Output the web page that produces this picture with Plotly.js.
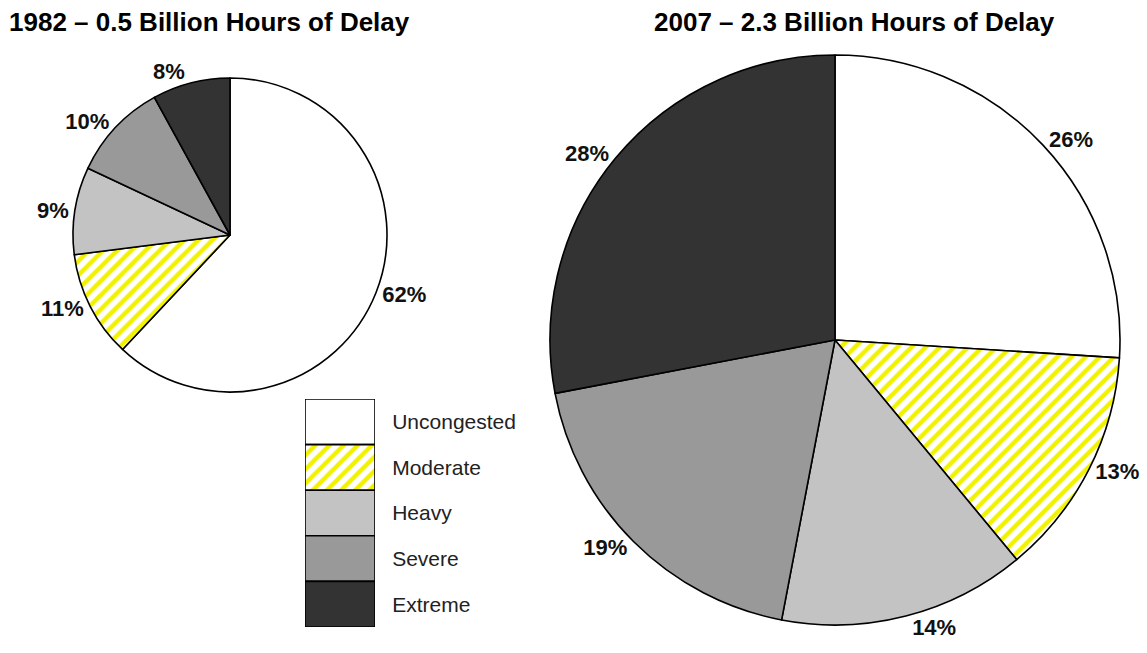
<!DOCTYPE html>
<html>
<head>
<meta charset="utf-8">
<script src="https://cdn.plot.ly/plotly-3.0.1.min.js"></script>
<style>html,body{margin:0;padding:0;background:#fff;}#chart{width:1147px;height:653px;}</style>
</head>
<body>
<div id="chart"></div>
<script>
// ---- data ----
const categories = ["Uncongested", "Moderate", "Heavy", "Severe", "Extreme"];
const share1982 = [62, 11, 9, 10, 8];
const share2007 = [26, 13, 14, 19, 28];
const title1982 = "1982 \u2013 0.5 Billion Hours of Delay";
const title2007 = "2007 \u2013 2.3 Billion Hours of Delay";
const legendUnits = [1, 1, 1, 1, 1];

// ---- styles ----
const fills = ["#ffffff", "#ffffff", "#c3c3c3", "#999999", "#333333"];
const patterns = ["", "/", "", "", ""];
const W = 1147, H = 653;
const px = v => v / W;
const py = v => 1 - v / H;
const font = "Liberation Sans, Arial, sans-serif";
const stripe = {fgcolor: "#f2f200", bgcolor: "#ffffff", size: 10, solidity: 0.45};

function pieTrace(values, x0, x1, yTop, yBot) {
  return {
    type: "pie",
    labels: categories,
    values: values,
    sort: false,
    direction: "clockwise",
    rotation: 0,
    textinfo: "percent",
    textposition: "outside",
    textfont: {family: font, size: 22, color: "#111", weight: "bold"},
    marker: {colors: fills.slice(), pattern: Object.assign({shape: patterns.slice()}, stripe),
             line: {color: "#000", width: 1.6}},
    domain: {x: [px(x0), px(x1)], y: [py(yBot), py(yTop)]},
    hoverinfo: "label+percent",
    showlegend: false
  };
}

// legend key: one bar per category on a small categorical axis
const legendBars = categories.map((cat, k) => ({
  type: "bar",
  orientation: "h",
  y: [cat],
  x: [legendUnits[k]],
  xaxis: "x", yaxis: "y",
  width: 1,
  marker: {
    color: fills[k],
    pattern: Object.assign({shape: patterns[k]}, stripe),
    line: {color: "#000", width: 1.6}
  },
  cliponaxis: false,
  hoverinfo: "y",
  showlegend: false
}));

const data = [
  pieTrace(share1982, 73, 387, 78, 392),
  pieTrace(share2007, 550, 1120, 55, 625)
].concat(legendBars);

const layout = {
  width: W, height: H,
  margin: {l: 0, r: 0, t: 0, b: 0},
  paper_bgcolor: "#fff", plot_bgcolor: "rgba(0,0,0,0)",
  showlegend: false,
  barmode: "overlay",
  bargap: 0,
  xaxis: {domain: [px(305), px(375)], range: [0, 1], visible: false, fixedrange: true},
  yaxis: {domain: [py(627), py(399)], autorange: "reversed", side: "right",
          categoryorder: "array", categoryarray: categories,
          showline: false, showgrid: false, zeroline: false,
          ticks: "outside", ticklen: 12, tickcolor: "rgba(0,0,0,0)",
          tickfont: {family: font, size: 21, color: "#222"}, fixedrange: true},
  annotations: [
    {text: title1982, x: px(209), y: py(22), xref: "paper", yref: "paper", showarrow: false,
     xanchor: "center", yanchor: "middle", font: {family: font, size: 26, color: "#000", weight: "bold"}},
    {text: title2007, x: px(854), y: py(22), xref: "paper", yref: "paper", showarrow: false,
     xanchor: "center", yanchor: "middle", font: {family: font, size: 26, color: "#000", weight: "bold"}}
  ]
};

Plotly.newPlot("chart", data, layout, {displayModeBar: false, staticPlot: true});
</script>
</body>
</html>
